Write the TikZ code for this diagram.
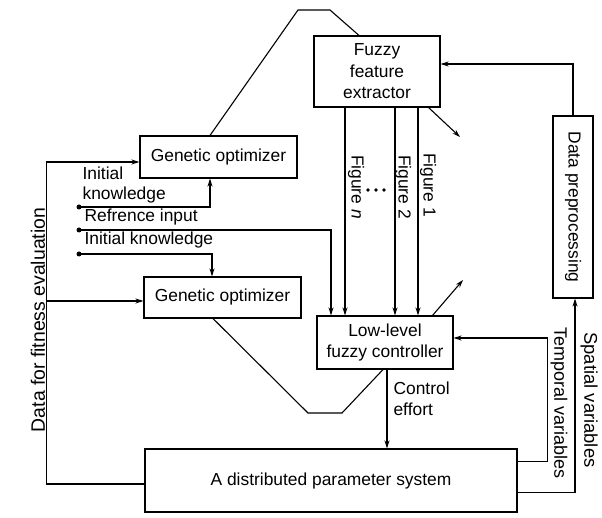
\documentclass[tikz,border=0pt]{standalone}
\usepackage{fontspec}
\setmainfont{Liberation Sans}
\usetikzlibrary{arrows.meta,calc}
\begin{document}
\begin{tikzpicture}[x=1pt,y=-1pt,line width=1.1pt,
  font=\fontsize{17.4}{21.5}\selectfont,
  box/.style={draw,inner sep=0pt,align=center},
  arr/.style={-{Stealth[length=8pt,width=5pt]}},
  lbl/.style={inner sep=0pt},
  dotmark/.style={fill,circle,inner sep=0pt,minimum size=5pt}]
\useasboundingbox (0,0) rectangle (602,518);

% boxes
\node[box,minimum width=126pt,minimum height=71pt] (ffe) at (377,71.5) {Fuzzy\\feature\\extractor};
\node[box,rotate=-90,minimum width=182pt,minimum height=40pt] (dp) at (573,207) {Data preprocessing};
\node[box,minimum width=157pt,minimum height=42pt] (go1) at (218.5,157) {Genetic optimizer};
\node[box,minimum width=157pt,minimum height=41pt] (go2) at (222.5,297.5) {Genetic optimizer};
\node[box,minimum width=136pt,minimum height=53pt] (llfc) at (385,342.5) {Low-level\\fuzzy controller};
\node[box,minimum width=372pt,minimum height=63pt] (dps) at (331,480.5) {A distributed parameter system};

% helper coordinates
\coordinate (fn) at (345,0);
\coordinate (f2) at (395,0);
\coordinate (f1) at (418,0);
\coordinate (ri) at (331,0);
\coordinate (o1) at (460,137);
\coordinate (o2) at (463,280);
\coordinate (t1) at (298,10);
\coordinate (t2) at (330,10);
\coordinate (b1) at (308,413);
\coordinate (b2) at (342,413);
\node[dotmark] (ik1) at (79,207) {};
\node[dotmark] (ri0) at (79,230) {};
\node[dotmark] (ik2) at (79,254) {};

% data preprocessing -> feature extractor
\draw[arr] (dp.west) |- ($(ffe.east)+(0,-7.5)$);
\draw[arr] ($(ffe.south east)+(-12,0)$) -- (o1);
% optimizer 1 -> feature extractor
\draw ($(go1.north)+(-8.5,0)$) -- (t1) -- (t2) -- ($(ffe.north)+(-18,0)$);
% figures
\draw[arr] (ffe.south -| fn) -- (llfc.north -| fn);
\draw[arr] (ffe.south -| f2) -- (llfc.north -| f2);
\draw[arr] (ffe.south -| f1) -- (llfc.north -| f1);
\node[lbl,rotate=-90] (lfn) at (356,187) {Figure \textit{n}};
\node[lbl,rotate=-90] (lf2) at (403,187) {Figure 2};
\node[lbl,rotate=-90] (lf1) at (428,185) {Figure 1};
\fill (368,190) circle (1.9) (376,190) circle (1.9) (384,190) circle (1.9);
% inputs
\draw[arr] (ri0.center) -| (llfc.north -| ri);
\draw[arr] ($(llfc.north east)+(-21,0)$) -- (o2);
\draw[arr] (ik1.center) -| ($(go1.south)+(-8.5,0)$);
\draw[arr] (ik2.center) -| ($(go2.north)+(-10.5,0)$);
\node[lbl,anchor=base west] at (82,180) {Initial};
\node[lbl,anchor=base west] at (82,200) {knowledge};
\node[lbl,anchor=base west] at (84,222) {Refrence input};
\node[lbl,anchor=base west] at (84,245) {Initial knowledge};
% optimizer 2 -> controller
\draw ($(go2.south)+(-9.5,0)$) -- (b1) -- (b2) -- ($(llfc.south)+(-2,0)$);
% control effort
\draw[arr] ($(llfc.south)+(2,0)$) -- ($(dps.north)+(56,0)$);
\node[lbl,anchor=west,align=left] at (393,399) {Control\\effort};
% temporal variables
\draw[arr] ($(dps.north east)+(0,13)$) -| ($(llfc.east)+(94,-4.5)$) -- ($(llfc.east)+(0,-4.5)$);
\node[lbl,rotate=-90,font=\fontsize{18}{21.5}\selectfont] at (559,403) {Temporal variables};
% spatial variables
\draw[arr] ($(dps.south east)+(0,-20)$) -| ($(dp.east)+(2,0)$);
\node[lbl,rotate=-90,font=\fontsize{18.4}{21.5}\selectfont] at (589,400) {Spatial variables};
% fitness data
\draw[arr] ($(dps.west)+(0,3.5)$) -| ($(go1.west)+(-93,5)$) -- ($(go1.west)+(0,5)$);
\draw[arr] ($(go2.west)+(-97.5,3.5)$) -- ($(go2.west)+(0,3.5)$);
\node[lbl,rotate=90,font=\fontsize{19.4}{21.5}\selectfont] at (38,320) {Data for fitness evaluation};
\end{tikzpicture}
\end{document}
